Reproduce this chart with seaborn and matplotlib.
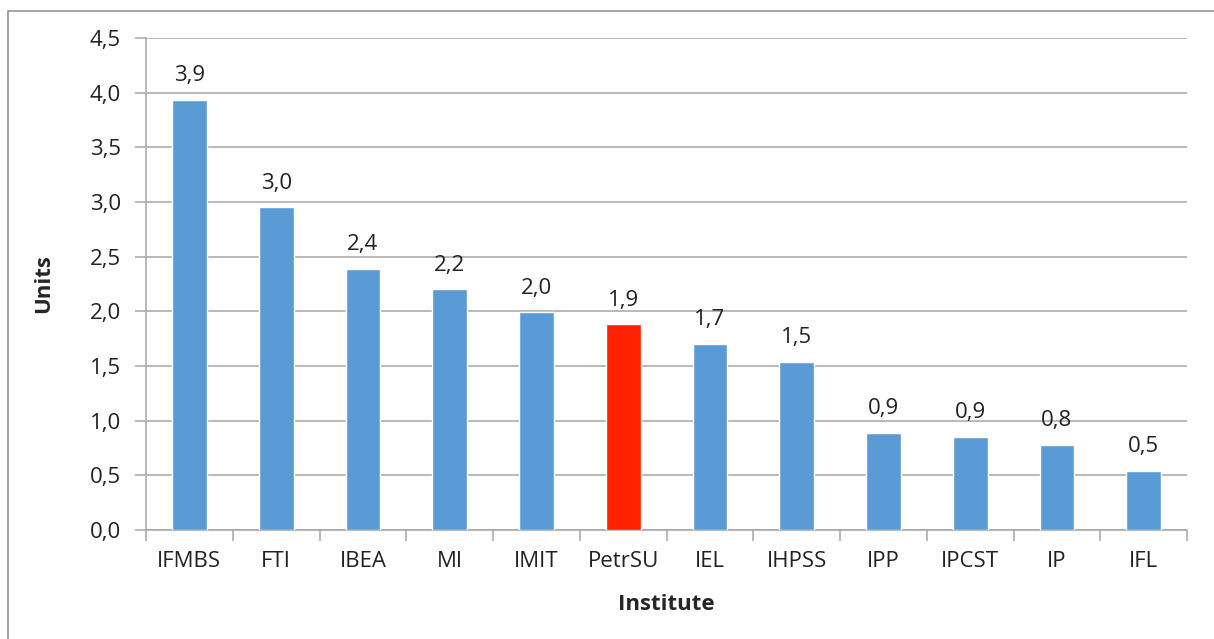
import numpy as np
import matplotlib
matplotlib.use("Agg")
import matplotlib.pyplot as plt
from matplotlib.ticker import FixedLocator, FuncFormatter
from matplotlib.lines import Line2D
import seaborn as sns

# data
institutes = ["IFMBS", "FTI", "IBEA", "MI", "IMIT", "PetrSU", "IEL",
              "IHPSS", "IPP", "IPCST", "IP", "IFL"]
units = [3.93, 2.95, 2.39, 2.20, 1.99, 1.88, 1.70, 1.54, 0.89, 0.85, 0.78, 0.54]
value_labels = ["3,9", "3,0", "2,4", "2,2", "2,0", "1,9", "1,7", "1,5",
                "0,9", "0,9", "0,8", "0,5"]
highlight = "PetrSU"

blue = "#5B9BD5"
red = "#FF2200"
palette = {name: (red if name == highlight else blue) for name in institutes}

sns.set_style("white")
plt.rcParams["font.family"] = ["Open Sans", "DejaVu Sans"]
fs = 16

fig = plt.figure(figsize=(12.14, 6.39), dpi=100)
ax = fig.add_axes([0.1203, 0.1706, 0.8575, 0.7699])

sns.barplot(x=institutes, y=units, hue=institutes, palette=palette,
            width=0.4, legend=False, saturation=1, ax=ax, zorder=3)

for cont, lab in zip(ax.containers, value_labels):
    ax.bar_label(cont, labels=[lab], padding=10, fontsize=fs, color="#222222")

ax.set_ylim(0, 4.5)
ax.set_xlim(-0.5, len(institutes) - 0.5)
ax.set_yticks(np.arange(0, 4.51, 0.5))
ax.yaxis.set_major_formatter(FuncFormatter(lambda v, p: f"{v:.1f}".replace(".", ",")))
ax.grid(axis="y", color="#A6A6A6", linewidth=1.1, zorder=0)
ax.grid(axis="x", visible=False)

ax.xaxis.set_minor_locator(FixedLocator(np.arange(-0.5, len(institutes), 1)))
ax.tick_params(axis="x", which="major", length=0, pad=15, labelsize=fs, labelcolor="#222222")
ax.tick_params(axis="x", which="minor", length=8, width=1.1, color="#A6A6A6", direction="out")
ax.tick_params(axis="y", length=8, width=1.1, color="#A6A6A6", direction="out",
               labelsize=fs, labelcolor="#222222", pad=10)
ax.tick_params(axis="x", which="both", bottom=True)
ax.tick_params(axis="y", left=True)

for side in ["top", "right"]:
    ax.spines[side].set_visible(False)
for side in ["left", "bottom"]:
    ax.spines[side].set_color("#A6A6A6")
    ax.spines[side].set_linewidth(1.1)

ax.set_xlabel("Institute", fontsize=fs, fontweight="bold", labelpad=16)
ax.set_ylabel("Units", fontsize=fs, fontweight="bold", labelpad=26)

# chart border (left and top edges visible in the original)
W, H = 1214, 639
fig.add_artist(Line2D([7.5 / W, 7.5 / W], [0, 1 - 10.5 / H], transform=fig.transFigure,
                      color="#8C8C8C", linewidth=1.1))
fig.add_artist(Line2D([7.5 / W, 1], [1 - 10.5 / H, 1 - 10.5 / H], transform=fig.transFigure,
                      color="#8C8C8C", linewidth=1.1))

fig.savefig("out.png", dpi=100)
